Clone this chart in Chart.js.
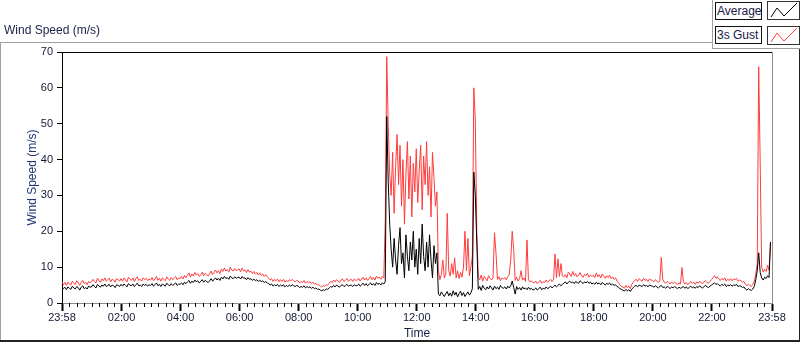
<!DOCTYPE html>
<html>
<head>
<meta charset="utf-8">
<script src="https://cdn.jsdelivr.net/npm/chart.js@4.4.0/dist/chart.umd.min.js"></script>
<style>
  html, body { margin: 0; padding: 0; background: #fff; }
  #wrap { position: relative; width: 800px; height: 342px; overflow: hidden; font-family: "Liberation Sans", Arial, sans-serif; }
  #grafico { position: absolute; left: 0; top: 0; }
  .titulo { position: absolute; left: 4px; top: 23px; font-size: 12px; color: #1a2048; }
  .leyenda { position: absolute; left: 712px; top: 0; width: 88px; height: 48px; border-left: 1px solid #a0a0a0; border-bottom: 1px solid #a0a0a0; background: #fff; }
  .etiqueta { position: absolute; left: 2px; width: 44px; height: 16px; border: 1px solid #111; background: #fcfcfc; font-size: 12px; line-height: 16px; padding-left: 1px; color: #1a2048; }
  .muestra { position: absolute; left: 54px; width: 31px; height: 17px; border: 1px solid #333; background: #fff; }
  .muestra svg { display: block; }
</style>
</head>
<body>
<div id="wrap">
  <canvas id="grafico" width="800" height="342"></canvas>
  <div class="titulo">Wind Speed (m/s)</div>
  <div class="leyenda">
    <div class="etiqueta" style="top:2px">Average</div>
    <div class="muestra" style="top:1px"><svg width="31" height="17"><polyline points="3,15 9,6 16,14 29,1" fill="none" stroke="#000" stroke-width="1"/></svg></div>
    <div class="etiqueta" style="top:26px">3s Gust</div>
    <div class="muestra" style="top:26px"><svg width="31" height="17"><polyline points="3,15 9,6 16,14 29,1" fill="none" stroke="#ff3c3c" stroke-width="1"/></svg></div>
  </div>
</div>
<script>
// Datos: una muestra cada 3 minutos desde las 23:58 (una fila = 1 hora)
const paso = 3;

const promedio = [
  4.6,4.0,4.4,3.7,4.5,4.1,3.8,4.7,4.2,3.9,4.6,4.3,3.6,4.4,4.8,4.0,4.3,3.9,4.7,4.4,
  4.5,5.1,4.6,4.2,5.2,4.8,4.4,5.0,4.7,5.3,4.6,4.9,5.2,4.5,5.0,4.8,4.3,5.1,4.9,4.6,
  5.2,4.7,5.3,4.9,4.5,5.4,5.0,4.8,5.3,4.6,5.1,5.5,4.8,5.0,4.6,5.3,4.9,5.2,4.7,5.1,
  4.9,5.4,4.7,5.1,5.6,4.8,5.2,4.6,5.3,5.0,4.7,5.5,5.1,4.8,5.4,4.9,5.2,5.6,4.9,5.3,
  5.2,5.6,5.1,5.8,5.4,5.9,6.3,5.5,6.1,5.7,6.4,5.9,6.2,5.6,6.0,6.5,5.8,6.3,6.0,5.7,
  6.2,6.8,6.1,6.5,7.0,6.4,6.9,6.3,7.2,6.7,7.4,6.8,7.1,6.6,7.5,7.0,6.8,7.3,6.9,7.1,
  7.2,6.7,7.4,6.9,7.0,6.5,7.1,6.6,6.8,6.3,6.7,6.2,6.5,6.0,6.4,5.9,6.2,5.7,6.0,5.6,
  5.4,5.0,5.3,4.7,5.1,4.8,5.2,4.6,5.0,4.7,5.1,4.5,4.9,4.6,5.0,4.7,5.1,4.8,4.6,4.9,
  4.7,4.3,4.6,4.4,4.8,4.2,4.6,4.3,4.5,4.1,4.4,4.0,4.2,3.8,3.9,3.6,3.4,3.7,3.5,3.9,
  3.8,4.2,4.6,4.4,4.9,4.5,5.0,4.7,4.4,4.9,5.1,4.6,4.8,5.2,4.7,4.9,5.0,4.6,5.1,4.8,
  4.9,5.3,4.7,5.1,5.5,4.9,5.4,4.8,5.2,5.6,5.0,5.4,4.9,5.7,5.2,5.5,5.0,5.6,5.3,6.0,
  52,34,22,15,10,18,12,8,16,21,11,14,7,19,13,9,17,12,20,10,
  15,8,18,11,22,13,9,17,10,19,12,7,16,11,14,2.5,2.0,3.1,2.4,1.8,
  2.6,3.2,2.0,2.8,1.9,3.4,2.2,3.0,1.7,2.6,3.3,2.1,2.9,1.8,2.5,3.1,2.2,2.8,4.0,36.5,
  30,17,3.8,4.6,3.5,4.9,4.1,3.7,4.5,3.9,4.8,4.2,3.6,4.7,4.0,4.4,3.8,4.9,4.3,4.1,
  4.5,3.9,4.7,4.2,4.8,6.1,4.4,2.5,4.6,3.8,4.3,3.6,4.5,3.9,4.2,3.7,4.4,3.8,4.1,3.6,
  3.8,4.2,3.6,4.0,4.4,3.7,4.1,3.9,4.5,4.0,4.3,4.7,4.2,4.6,5.0,4.5,4.9,5.3,4.8,5.2,
  5.5,5.9,5.3,5.8,6.1,5.6,5.9,5.4,6.0,5.7,5.5,6.2,5.8,5.4,5.9,5.6,6.0,5.5,5.8,5.3,
  5.6,5.2,5.8,5.3,5.6,5.1,5.7,5.4,5.0,5.5,5.2,5.6,5.0,5.3,4.9,5.1,4.6,4.4,4.0,3.8,
  3.6,3.3,3.8,3.4,3.7,3.2,3.9,4.3,4.7,4.9,4.5,5.0,4.8,4.6,5.1,4.7,4.9,4.5,5.0,4.8,
  4.7,4.4,4.8,4.5,4.2,4.6,4.9,4.3,4.5,4.1,4.6,4.4,4.0,4.5,4.2,4.6,4.3,4.0,4.4,4.1,
  4.3,4.6,4.1,4.5,4.0,4.4,4.7,4.2,4.5,4.1,4.6,4.3,4.8,4.4,4.2,4.6,4.9,4.5,4.3,4.7,
  5.0,5.3,5.6,5.2,5.4,5.0,4.8,5.2,4.9,5.3,4.6,5.0,4.8,5.1,4.7,5.0,4.9,5.2,4.6,4.8,
  4.7,4.3,4.5,3.9,3.6,4.0,3.7,3.5,3.9,4.6,6.5,9.0,14,8.5,7.0,6.4,7.2,6.8,7.6,7.1,
  17
];

const racha = [
  5.9,5.1,5.7,4.9,5.8,5.3,5.0,6.1,5.5,5.2,6.2,5.6,4.9,5.7,6.3,5.4,5.8,5.1,6.0,5.7,
  5.9,6.6,6.0,5.6,6.9,6.3,5.8,6.7,6.2,7.0,6.1,6.5,6.9,5.9,6.6,6.4,5.8,6.8,6.5,6.1,
  6.8,6.1,7.0,6.4,5.9,7.2,6.6,6.3,7.0,6.0,6.7,7.3,6.3,6.6,6.1,7.0,6.5,6.9,6.2,6.7,
  6.4,7.1,6.2,6.7,7.4,6.3,6.9,6.1,7.0,6.6,6.2,7.3,6.7,6.3,7.1,6.5,6.9,7.4,6.5,7.0,
  6.8,7.4,6.7,7.7,7.1,7.8,8.4,7.2,8.1,7.5,8.5,7.8,8.2,7.4,7.9,8.6,7.6,8.3,7.9,7.5,
  8.1,8.9,7.9,8.5,9.2,8.4,9.0,8.2,9.5,8.8,9.8,8.9,9.3,8.6,10.0,9.2,8.9,9.6,9.0,9.3,
  9.5,8.7,9.7,9.0,9.2,8.5,9.3,8.6,8.9,8.2,8.8,8.1,8.5,7.8,8.4,7.7,8.1,7.4,7.9,7.3,
  6.9,6.4,6.8,6.0,6.6,6.2,6.7,5.9,6.5,6.0,6.6,5.8,6.3,5.9,6.5,6.1,6.6,6.2,5.9,6.3,
  6.1,5.6,6.0,5.7,6.3,5.5,6.0,5.6,5.9,5.4,5.8,5.2,5.5,5.0,5.1,4.7,4.5,4.9,4.6,5.1,
  5.0,5.5,6.0,5.7,6.4,5.9,6.5,6.1,5.7,6.4,6.7,6.0,6.3,6.8,6.1,6.4,6.6,6.0,6.7,6.3,
  6.4,6.9,6.1,6.7,7.2,6.4,7.0,6.3,6.8,7.4,6.5,7.1,6.4,7.5,6.9,7.2,6.6,7.4,7.0,23,
  68.7,50,36,30,42,25,38,47,33,44,27,40,22,36,45,29,41,24,39,31,
  43,28,37,44,26,41,33,45,30,38,24,42,35,27,31,9,6.5,8,12,7,
  8,25,9,7.5,11,8,12.6,7,9,6.8,8.5,7.2,10,20,9,18,7.6,10,13,60,
  51,20,7.2,6.5,7.8,6.1,7.4,6.8,6.2,7.6,6.9,6.4,7.1,19.6,14,6.6,7.3,6.2,7.0,6.7,
  7.1,6.5,7.4,8,12,20,15,6.3,7.2,6.1,6.8,9,6.4,7.0,6.0,17.6,6.5,5.9,6.2,5.7,
  5.6,6.1,5.4,5.9,6.3,5.5,6.0,5.7,6.4,5.8,6.2,6.6,6.0,6.5,13.7,7.0,12.3,7.4,11,7.6,
  7.3,7.9,7.0,8.6,8.1,7.4,8.8,7.6,8.2,7.3,7.8,8.5,7.5,7.1,8.0,7.6,8.3,7.2,7.8,7.4,
  7.7,7.1,8.4,7.3,7.9,7.0,8.1,7.5,6.9,7.6,7.1,7.8,6.8,7.3,6.6,7.0,6.1,5.6,5.0,4.6,
  4.5,4.1,4.9,4.3,4.7,4.0,5.2,5.8,6.3,6.6,6.0,6.8,6.4,6.1,6.9,6.3,6.6,6.0,6.7,6.4,
  6.3,5.9,6.5,6.1,5.7,6.2,12.7,6.6,5.8,5.5,6.0,5.7,5.3,5.9,5.4,5.8,5.5,5.1,5.6,5.3,
  9.9,5.9,5.3,5.7,5.1,5.6,6.0,5.4,5.8,5.2,5.9,5.5,6.1,5.6,5.4,5.9,6.2,5.7,5.5,6.0,
  6.5,7.0,7.6,6.9,7.3,6.6,6.3,6.9,6.4,7.0,6.1,6.6,6.3,6.8,6.2,6.7,6.5,6.9,6.1,6.4,
  6.2,5.8,6.0,5.2,4.8,5.3,4.9,4.6,5.2,6.0,8.0,11,65.9,39,10,8.6,9.4,8.8,10.5,9.2,
  17
];

// Marcas del eje de tiempo (minutos desde las 23:58)
const ticksTiempo = [0, 121, 241, 361, 481, 601, 721, 841, 961, 1081, 1201, 1321, 1443];
const etiquetasTiempo = ['23:58', '02:00', '04:00', '06:00', '08:00', '10:00', '12:00',
  '14:00', '16:00', '18:00', '20:00', '22:00', '23:58'];
const ticksVelocidad = [0, 10, 20, 30, 40, 50, 60, 70];

const fuente = { family: '"Liberation Sans", Arial, sans-serif', size: 11 };
const colorTexto = '#141832';

function linea(c, x1, y1, x2, y2) {
  c.beginPath();
  c.moveTo(x1, y1);
  c.lineTo(x2, y2);
  c.stroke();
}

// Marco del panel y marcas menores del eje x
const marco = {
  id: 'marco',
  beforeDraw(chart) {
    const c = chart.ctx;
    c.save();
    c.lineWidth = 1;
    c.strokeStyle = '#a0a0a0';
    linea(c, 0, 42.5, 712, 42.5);
    linea(c, 0.5, 42, 0.5, 342);
    c.strokeStyle = '#222';
    linea(c, 799.5, 48, 799.5, 342);
    c.lineWidth = 2;
    linea(c, 0, 341, 800, 341);
    c.restore();
  },
  afterDraw(chart) {
    const c = chart.ctx;
    const a = chart.chartArea;
    const xs = chart.scales.x;
    c.save();
    c.lineWidth = 1;
    c.strokeStyle = '#000';
    linea(c, a.left, a.top + 0.5, a.right, a.top + 0.5);
    c.strokeStyle = '#8c8c8c';
    linea(c, a.right + 0.5, a.top, a.right + 0.5, a.bottom);
    // menores: 8 divisiones entre marcas principales
    c.strokeStyle = '#000';
    for (let k = 0; k < ticksTiempo.length - 1; k++) {
      const ini = ticksTiempo[k], fin = ticksTiempo[k + 1];
      for (let j = 1; j < 8; j++) {
        const x = Math.round(xs.getPixelForValue(ini + (fin - ini) * j / 8)) + 0.5;
        linea(c, x, a.bottom, x, a.bottom + 4);
      }
    }
    c.restore();
  }
};

const puntos = serie => serie.map((v, i) => ({ x: i * paso, y: v }));

new Chart(document.getElementById('grafico'), {
  type: 'line',
  data: {
    datasets: [
      { label: 'Average', data: puntos(promedio), borderColor: '#000', borderWidth: 1, pointRadius: 0, tension: 0 },
      { label: '3s Gust', data: puntos(racha), borderColor: '#ff3c3c', borderWidth: 1, pointRadius: 0, tension: 0 }
    ]
  },
  options: {
    responsive: false,
    animation: false,
    devicePixelRatio: 1,
    layout: { padding: { top: 52, right: 28, left: 0, bottom: 0 } },
    plugins: { legend: { display: false }, tooltip: { enabled: false } },
    scales: {
      x: {
        type: 'linear',
        min: 0,
        max: 1443,
        afterBuildTicks: s => { s.ticks = ticksTiempo.map(v => ({ value: v })); },
        afterFit: s => { s.height = 39; },
        ticks: {
          autoSkip: false, maxRotation: 0, padding: 0, font: fuente, color: colorTexto,
          callback: (v, i) => etiquetasTiempo[i]
        },
        grid: { drawOnChartArea: false, drawTicks: true, tickLength: 8, tickWidth: 2, tickColor: '#000' },
        border: { display: true, color: '#8c8c8c', width: 1 },
        title: { display: true, text: 'Time', color: '#1a2048', font: { family: fuente.family, size: 12 }, padding: { top: 0, bottom: 1 } }
      },
      y: {
        min: 0,
        max: 70,
        afterBuildTicks: s => { s.ticks = ticksVelocidad.map(v => ({ value: v })); },
        afterFit: s => { s.width = 62; },
        ticks: { padding: 4, font: fuente, color: colorTexto },
        grid: { drawOnChartArea: false, drawTicks: true, tickLength: 5, tickColor: '#000' },
        border: { display: true, color: '#000', width: 1 },
        title: { display: true, text: 'Wind Speed (m/s)', color: '#1f3370', font: { family: fuente.family, size: 12 }, padding: { top: 25, bottom: 0 } }
      }
    }
  },
  plugins: [marco]
});
</script>
</body>
</html>
